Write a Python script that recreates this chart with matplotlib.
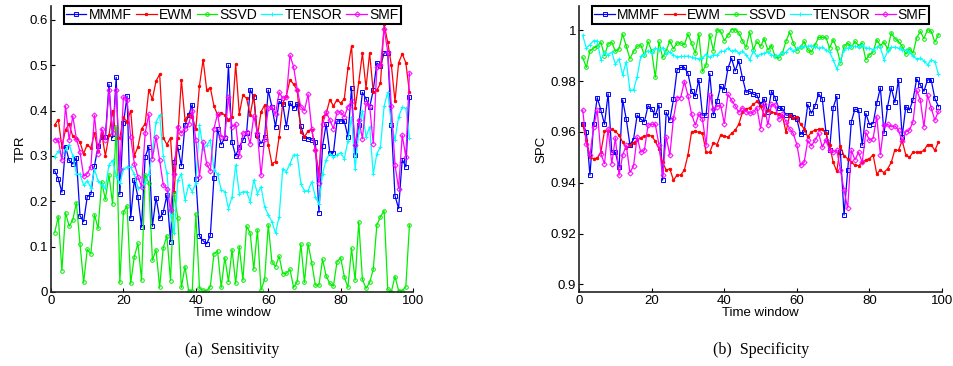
import numpy as np
import matplotlib
matplotlib.use("Agg")
import matplotlib.pyplot as plt

plt.rcParams['font.family'] = ['Liberation Sans', 'DejaVu Sans']

methods = ["MMMF", "EWM", "SSVD", "TENSOR", "SMF"]
colors = ["#0000ff", "#ff0000", "#00f000", "#00ffff", "#ff00ff"]
markers = ["s", ".", "o", "+", "D"]

windows = np.arange(1, 100)

# (a) sensitivity (TPR)
tpr_mmmf = [0.267, 0.25, 0.22, 0.32, 0.29, 0.282, 0.296, 0.168, 0.155, 0.21,
            0.215, 0.278, 0.322, 0.342, 0.342, 0.458, 0.34, 0.473, 0.215, 0.372,
            0.432, 0.163, 0.247, 0.21, 0.143, 0.298, 0.32, 0.145, 0.208, 0.162,
            0.176, 0.214, 0.111, 0.287, 0.32, 0.278, 0.368, 0.39, 0.413, 0.25,
            0.123, 0.113, 0.106, 0.125, 0.252, 0.36, 0.325, 0.34, 0.5, 0.33,
            0.30, 0.32, 0.335, 0.35, 0.446, 0.43, 0.346, 0.327, 0.342, 0.445,
            0.408, 0.364, 0.42, 0.415, 0.364, 0.417, 0.405, 0.415, 0.366, 0.34,
            0.338, 0.335, 0.331, 0.175, 0.322, 0.37, 0.307, 0.307, 0.377, 0.377,
            0.377, 0.342, 0.45, 0.302, 0.368, 0.44, 0.426, 0.407, 0.445, 0.505,
            0.498, 0.527, 0.527, 0.368, 0.212, 0.184, 0.292, 0.276, 0.43]
tpr_ewm = [0.368, 0.38, 0.32, 0.358, 0.37, 0.343, 0.34, 0.33, 0.305, 0.325,
           0.317, 0.35, 0.31, 0.35, 0.30, 0.345, 0.40, 0.34, 0.34, 0.385,
           0.375, 0.40, 0.30, 0.32, 0.36, 0.37, 0.445, 0.425, 0.465, 0.48,
           0.34, 0.325, 0.34, 0.22, 0.34, 0.468, 0.38, 0.39, 0.385, 0.36,
           0.455, 0.512, 0.445, 0.45, 0.41, 0.39, 0.395, 0.39, 0.38, 0.386,
           0.502, 0.393, 0.434, 0.427, 0.39, 0.434, 0.342, 0.397, 0.412, 0.324,
           0.283, 0.287, 0.342, 0.416, 0.432, 0.468, 0.458, 0.445, 0.353, 0.342,
           0.355, 0.358, 0.313, 0.26, 0.386, 0.393, 0.424, 0.41, 0.424, 0.416,
           0.426, 0.493, 0.542, 0.405, 0.463, 0.526, 0.45, 0.527, 0.44, 0.445,
           0.46, 0.59, 0.55, 0.50, 0.42, 0.505, 0.525, 0.505, 0.44]
tpr_ssvd = [0.131, 0.166, 0.047, 0.175, 0.145, 0.159, 0.197, 0.106, 0.021, 0.094,
            0.084, 0.17, 0.14, 0.243, 0.204, 0.258, 0.194, 0.364, 0.021, 0.176,
            0.19, 0.019, 0.078, 0.107, 0.026, 0.258, 0.241, 0.07, 0.093, 0.01,
            0.098, 0.124, 0.025, 0.217, 0.164, 0.01, 0.056, 0.003, 0.003, 0.173,
            0.008, 0.004, 0.003, 0.012, 0.084, 0.091, 0.01, 0.076, 0.023, 0.093,
            0.019, 0.10, 0.026, 0.145, 0.13, 0.05, 0.137, 0.004, 0.028, 0.148,
            0.067, 0.056, 0.079, 0.04, 0.041, 0.05, 0.01, 0.023, 0.106, 0.021,
            0.106, 0.065, 0.015, 0.015, 0.072, 0.035, 0.019, 0.013, 0.067, 0.076,
            0.034, 0.01, 0.096, 0.026, 0.155, 0.028, 0.008, 0.021, 0.05, 0.148,
            0.166, 0.179, 0.006, 0.001, 0.034, 0.003, 0.003, 0.012, 0.148]
tpr_tensor = [0.298, 0.31, 0.30, 0.315, 0.325, 0.30, 0.26, 0.26, 0.235, 0.245,
              0.23, 0.27, 0.245, 0.235, 0.23, 0.28, 0.29, 0.255, 0.24, 0.27,
              0.275, 0.275, 0.26, 0.23, 0.23, 0.24, 0.26, 0.31, 0.375, 0.39,
              0.30, 0.262, 0.17, 0.13, 0.247, 0.26, 0.203, 0.236, 0.221, 0.24,
              0.368, 0.316, 0.323, 0.335, 0.269, 0.26, 0.225, 0.221, 0.184, 0.21,
              0.28, 0.217, 0.221, 0.221, 0.199, 0.247, 0.217, 0.232, 0.188, 0.17,
              0.155, 0.13, 0.166, 0.272, 0.265, 0.283, 0.302, 0.302, 0.239, 0.223,
              0.223, 0.243, 0.21, 0.194, 0.261, 0.292, 0.305, 0.298, 0.302, 0.307,
              0.294, 0.333, 0.386, 0.272, 0.353, 0.40, 0.342, 0.364, 0.26, 0.305,
              0.32, 0.41, 0.44, 0.37, 0.335, 0.386, 0.407, 0.405, 0.34]
tpr_smf = [0.336, 0.335, 0.29, 0.41, 0.335, 0.388, 0.338, 0.309, 0.255, 0.261,
           0.276, 0.39, 0.305, 0.36, 0.335, 0.446, 0.35, 0.446, 0.27, 0.43,
           0.423, 0.342, 0.283, 0.254, 0.232, 0.35, 0.392, 0.294, 0.342, 0.29,
           0.236, 0.228, 0.18, 0.261, 0.364, 0.35, 0.36, 0.37, 0.40, 0.335,
           0.254, 0.33, 0.282, 0.267, 0.36, 0.393, 0.342, 0.342, 0.43, 0.364,
           0.37, 0.30, 0.35, 0.353, 0.327, 0.388, 0.351, 0.257, 0.338, 0.405,
           0.408, 0.392, 0.44, 0.427, 0.43, 0.522, 0.496, 0.446, 0.408, 0.40,
           0.436, 0.36, 0.314, 0.24, 0.37, 0.397, 0.379, 0.36, 0.397, 0.397,
           0.386, 0.408, 0.42, 0.324, 0.38, 0.338, 0.416, 0.41, 0.327, 0.496,
           0.50, 0.58, 0.53, 0.41, 0.28, 0.228, 0.346, 0.298, 0.483]

# (b) specificity (SPC)
spc_mmmf = [0.963, 0.960, 0.943, 0.963, 0.9735, 0.9686, 0.963, 0.975, 0.952, 0.952,
            0.946, 0.9726, 0.965, 0.955, 0.957, 0.9666, 0.965, 0.964, 0.9703, 0.969,
            0.9666, 0.9706, 0.941, 0.9677, 0.9646, 0.9728, 0.9844, 0.9854, 0.9854, 0.983,
            0.976, 0.974, 0.9805, 0.9666, 0.9666, 0.983, 0.9666, 0.972, 0.978, 0.9765,
            0.985, 0.989, 0.984, 0.988, 0.9814, 0.9756, 0.976, 0.9748, 0.9745, 0.9708,
            0.973, 0.9677, 0.9759, 0.9735, 0.9693, 0.9693, 0.9666, 0.9666, 0.966, 0.965,
            0.959, 0.96, 0.9708, 0.9673, 0.9703, 0.975, 0.973, 0.96, 0.9528, 0.9695,
            0.974, 0.952, 0.9273, 0.9449, 0.964, 0.969, 0.9686, 0.9547, 0.9673, 0.9629,
            0.9633, 0.9712, 0.9774, 0.9594, 0.97, 0.9774, 0.9716, 0.9805, 0.958, 0.97,
            0.9686, 0.9726, 0.9809, 0.9785, 0.976, 0.9805, 0.9805, 0.9732, 0.97]
spc_ewm = [0.963, 0.957, 0.950, 0.9495, 0.9497, 0.952, 0.9603, 0.9603, 0.961, 0.9603,
           0.9587, 0.956, 0.9537, 0.955, 0.9558, 0.9567, 0.9577, 0.9584, 0.9587, 0.9584,
           0.9563, 0.9534, 0.948, 0.945, 0.9455, 0.941, 0.943, 0.943, 0.945, 0.951,
           0.960, 0.9603, 0.9598, 0.9594, 0.952, 0.952, 0.9558, 0.955, 0.9587, 0.9584,
           0.958, 0.9594, 0.9607, 0.963, 0.9677, 0.969, 0.9695, 0.9708, 0.972, 0.9703,
           0.9666, 0.9686, 0.968, 0.9673, 0.967, 0.9664, 0.960, 0.9666, 0.9653, 0.966,
           0.963, 0.9613, 0.958, 0.96, 0.9607, 0.961, 0.961, 0.9594, 0.955, 0.948,
           0.9445, 0.9545, 0.9505, 0.9495, 0.948, 0.947, 0.9467, 0.948, 0.949, 0.9495,
           0.951, 0.9435, 0.945, 0.944, 0.9455, 0.948, 0.953, 0.9527, 0.9567, 0.951,
           0.950, 0.952, 0.952, 0.952, 0.9527, 0.955, 0.955, 0.9527, 0.956]
spc_ssvd = [0.9893, 0.9854, 0.992, 0.993, 0.9937, 0.9953, 0.99, 0.9946, 0.9953, 0.9917,
            0.9927, 0.9985, 0.9937, 0.9888, 0.9917, 0.9937, 0.9943, 0.9901, 0.9956, 0.9917,
            0.9815, 0.9956, 0.9893, 0.992, 0.9959, 0.9927, 0.995, 0.995, 0.9943, 0.9985,
            0.995, 0.991, 0.9985, 0.9838, 0.9864, 0.9983, 0.992, 1.0003, 0.9996, 0.9959,
            0.998, 1.0003, 1.0003, 0.999, 0.9959, 0.9933, 0.9993, 0.9923, 0.9956, 0.9937,
            0.9967, 0.9923, 0.994, 0.9897, 0.989, 0.991, 0.9956, 0.9993, 0.995, 0.992,
            0.9933, 0.9956, 0.9923, 0.9914, 0.9943, 0.9972, 0.9972, 0.9972, 0.993, 0.9963,
            0.993, 0.9871, 0.9937, 0.995, 0.9933, 0.9956, 0.994, 0.995, 0.9884, 0.9904,
            0.9914, 0.9963, 0.994, 0.9954, 0.9926, 0.999, 0.9967, 0.9956, 0.9937, 0.9906,
            0.9927, 0.991, 0.997, 0.9996, 0.9967, 1.0003, 0.9996, 0.9954, 0.9983]
spc_tensor = [0.998, 0.993, 0.9943, 0.9959, 0.9959, 0.9884, 0.9914, 0.9904, 0.9914, 0.9867,
              0.9887, 0.9825, 0.9877, 0.9765, 0.9765, 0.9818, 0.9897, 0.9906, 0.992, 0.991,
              0.993, 0.9923, 0.9932, 0.9905, 0.9915, 0.9902, 0.9895, 0.9897, 0.9897, 0.9899,
              0.9893, 0.989, 0.9888, 0.989, 0.9906, 0.9893, 0.9904, 0.9901, 0.9917, 0.9917,
              0.993, 0.9917, 0.9923, 0.991, 0.9917, 0.9904, 0.9884, 0.9917, 0.9897, 0.9906,
              0.991, 0.9914, 0.9904, 0.9897, 0.9901, 0.991, 0.9914, 0.993, 0.9917, 0.993,
              0.9933, 0.9937, 0.9937, 0.994, 0.9933, 0.993, 0.9933, 0.9923, 0.9914, 0.9884,
              0.9848, 0.9884, 0.9923, 0.993, 0.9937, 0.9937, 0.9933, 0.9943, 0.993, 0.993,
              0.9923, 0.9933, 0.9933, 0.9885, 0.9917, 0.9933, 0.9933, 0.993, 0.9923, 0.9923,
              0.9914, 0.9897, 0.9888, 0.989, 0.988, 0.9864, 0.9884, 0.9877, 0.9827]
spc_smf = [0.9686, 0.9554, 0.9508, 0.962, 0.9686, 0.9514, 0.9475, 0.9613, 0.9475, 0.9577,
           0.9429, 0.9508, 0.9548, 0.944, 0.9466, 0.958, 0.952, 0.9528, 0.9627, 0.963,
           0.963, 0.955, 0.9429, 0.958, 0.9508, 0.9653, 0.9735, 0.9735, 0.9798, 0.9743,
           0.967, 0.9627, 0.967, 0.965, 0.9547, 0.9745, 0.969, 0.970, 0.9706, 0.9633,
           0.9748, 0.9726, 0.9703, 0.9677, 0.9695, 0.968, 0.9673, 0.9677, 0.9695, 0.9613,
           0.9708, 0.9627, 0.9708, 0.9706, 0.965, 0.967, 0.964, 0.9613, 0.9594, 0.955,
           0.9468, 0.948, 0.9567, 0.9545, 0.9567, 0.9594, 0.954, 0.957, 0.9528, 0.952,
           0.9528, 0.945, 0.937, 0.930, 0.9528, 0.949, 0.952, 0.948, 0.9598, 0.9567,
           0.9574, 0.966, 0.9511, 0.9627, 0.963, 0.962, 0.9624, 0.9607, 0.9563, 0.96,
           0.9607, 0.964, 0.9765, 0.9726, 0.962, 0.9745, 0.9695, 0.9646, 0.9682]


def draw_panel(ax, series, ylim, yticks, yticklabels, ylabel, caption):
    for vals, name, c, m in zip(series, methods, colors, markers):
        hollow = m in ("s", "o", "D")
        ax.plot(windows, vals, color=c, lw=0.9, marker=m,
                ms=2.6 if m != "." else 3.5,
                mfc="none" if hollow else c, mec=c, mew=0.7, label=name)
    ax.set_xlim(0, 100)
    ax.set_ylim(*ylim)
    ax.set_xticks(range(0, 101, 20))
    ax.set_yticks(yticks)
    ax.set_yticklabels(yticklabels)
    ax.tick_params(direction="in", length=3, labelsize=9.5, pad=2,
                   top=False, right=False)
    for s in ("top", "right"):
        ax.spines[s].set_visible(False)
    for s in ("left", "bottom"):
        ax.spines[s].set_linewidth(1.2)
        ax.spines[s].set_color("#222222")
    ax.set_xlabel("Time window", fontsize=9.5, labelpad=0.5)
    ax.set_ylabel(ylabel, fontsize=9.5, labelpad=2)
    leg = ax.legend(loc="upper center", bbox_to_anchor=(0.5, 1.0), ncol=5,
                    fontsize=10, handlelength=1.5, handletextpad=0.15,
                    columnspacing=0.3, borderpad=0.15, borderaxespad=0,
                    fancybox=False, framealpha=1)
    leg.get_frame().set_edgecolor("black")
    leg.get_frame().set_linewidth(1.5)
    ax.text(0.5, -0.175, caption, transform=ax.transAxes, ha="center",
            va="top", fontsize=11.5, family="Liberation Serif")


fig = plt.figure(figsize=(9.54, 3.66), dpi=100)
ax1 = fig.add_axes([0.0535, 0.2022, 0.3795, 0.781])
ax2 = fig.add_axes([0.607, 0.2022, 0.3805, 0.781])

draw_panel(ax1, [tpr_mmmf, tpr_ewm, tpr_ssvd, tpr_tensor, tpr_smf],
           (0, 0.63), [0, 0.1, 0.2, 0.3, 0.4, 0.5, 0.6],
           ["0", "0.1", "0.2", "0.3", "0.4", "0.5", "0.6"],
           "TPR", "(a)  Sensitivity")
draw_panel(ax2, [spc_mmmf, spc_ewm, spc_ssvd, spc_tensor, spc_smf],
           (0.897, 1.0095), [0.9, 0.92, 0.94, 0.96, 0.98, 1.0],
           ["0.9", "0.92", "0.94", "0.96", "0.98", "1"],
           "SPC", "(b)  Specificity")

fig.savefig("out.png", dpi=100)
